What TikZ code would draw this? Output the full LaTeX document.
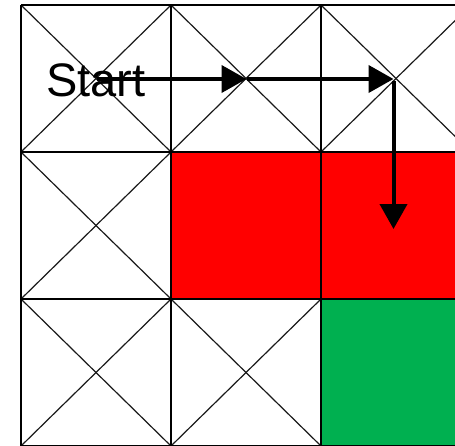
\documentclass[tikz,border=0pt]{standalone}
\usepackage{fontspec}
\setmainfont{Liberation Sans}
\usetikzlibrary{arrows.meta}
\definecolor{cellred}{HTML}{FF0000}
\definecolor{cellgreen}{HTML}{00B050}
\begin{document}
\begin{tikzpicture}[x=1pt,y=-1pt,
  gridline/.style={line width=1.8pt,black},
  diag/.style={line width=1.2pt,black!90},
  movearrow/.style={line width=4pt,-{Triangle[length=25pt,width=27pt]}},
  label/.style={font=\fontsize{47}{47}\selectfont,inner sep=0pt,anchor=base west}]
\useasboundingbox (0,0) rectangle (455,445);
\clip (0,0) rectangle (455,445);
% grid corners
\foreach \i/\x in {0/21,1/171,2/321,3/471}{
  \foreach \j/\y in {0/5,1/152,2/299,3/446}{
    \coordinate (p\i\j) at (\x,\y);
  }
}
% coloured cells
\fill[cellred] (p11) rectangle (p32);
\fill[cellgreen] (p22) rectangle (p33);
% crossed cells
\foreach \i/\j in {0/0,1/0,2/0,0/1,0/2,1/2}{
  \pgfmathtruncatemacro{\ii}{\i+1}
  \pgfmathtruncatemacro{\jj}{\j+1}
  \draw[diag] (p\i\j) -- (p\ii\jj);
  \draw[diag] (p\i\jj) -- (p\ii\j);
}
% grid lines
\foreach \i in {0,1,2,3}{ \draw[gridline] (p\i0) -- (p\i3); }
\foreach \j in {0,1,2,3}{ \draw[gridline] (p0\j) -- (p3\j); }
% path
\coordinate (s) at (97,79);
\coordinate (a) at (246.5,79);
\coordinate (b) at (393.5,79);
\coordinate (c) at (393.5,229);
\draw[movearrow] (s) -- (a);
\draw[movearrow] (a) -- (b);
\draw[movearrow] ([yshift=-2pt]b) -- (c);
\node[label] (start) at (46,96.5) {Start};
\end{tikzpicture}
\end{document}
